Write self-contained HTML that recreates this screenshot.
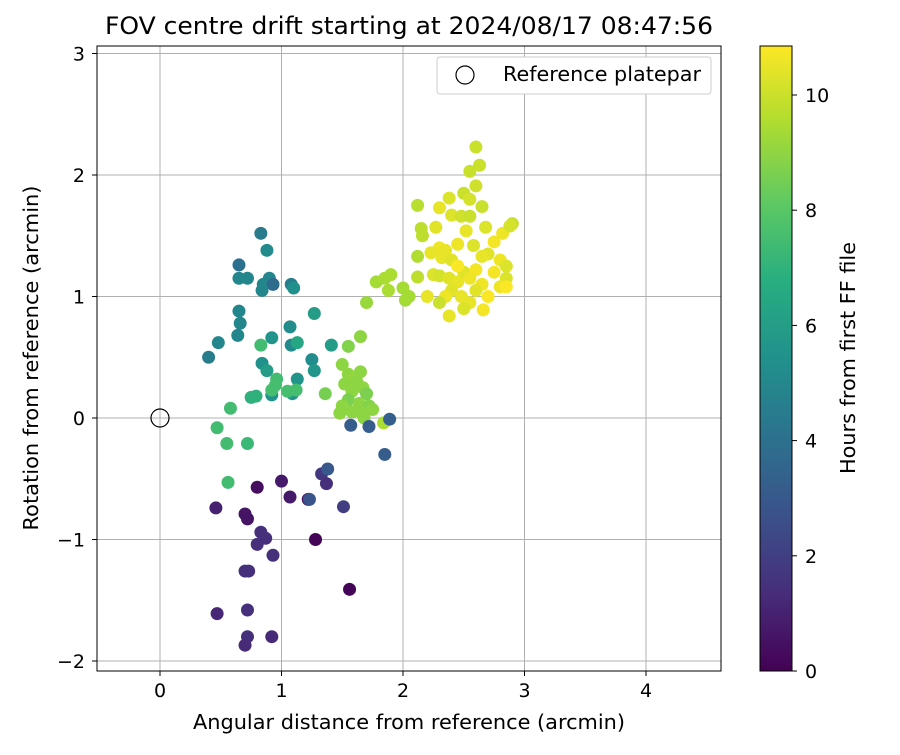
<!DOCTYPE html>
<html><head><meta charset="utf-8"><style>
body{margin:0;background:#fff;font-family:"Liberation Sans","DejaVu Sans",sans-serif}
svg text{font-family:"DejaVu Sans","Liberation Sans",sans-serif;fill:#000}
</style></head><body>
<svg id="chart" width="900" height="750" xmlns="http://www.w3.org/2000/svg">
<defs><linearGradient id="vir" x1="0" y1="1" x2="0" y2="0">
<stop offset="0" stop-color="#440154"/><stop offset="0.125" stop-color="#472d7b"/><stop offset="0.25" stop-color="#3b528b"/><stop offset="0.375" stop-color="#2c728e"/><stop offset="0.5" stop-color="#21918c"/><stop offset="0.625" stop-color="#28ae80"/><stop offset="0.75" stop-color="#5ec962"/><stop offset="0.875" stop-color="#addc30"/><stop offset="1" stop-color="#fde725"/></linearGradient></defs>
<text x="409" y="34" font-size="24" text-anchor="middle" textLength="608" lengthAdjust="spacingAndGlyphs">FOV centre drift starting at 2024/08/17 08:47:56</text>
<g id="grid"></g>
<g id="pts"></g>
<rect x="97" y="46" width="624" height="625" fill="none" stroke="#000" stroke-width="1"/>
<g id="ticks"></g>
<text x="409" y="729" font-size="20" text-anchor="middle" textLength="432" lengthAdjust="spacingAndGlyphs">Angular distance from reference (arcmin)</text>
<text transform="translate(38,358) rotate(-90)" font-size="20" text-anchor="middle" textLength="345" lengthAdjust="spacingAndGlyphs">Rotation from reference (arcmin)</text>
<g>
<rect x="437" y="57" width="274" height="37" rx="3" fill="#fff" stroke="#ccc"/>
<circle cx="465" cy="75" r="9" fill="none" stroke="#000" stroke-width="1.2"/>
<text x="503" y="81" font-size="20" textLength="198" lengthAdjust="spacingAndGlyphs">Reference platepar</text>
</g>
<rect x="760" y="46" width="32" height="625" fill="url(#vir)" stroke="#000" stroke-width="1"/>
<g id="cbt"></g>
<text transform="translate(855,358) rotate(-90)" font-size="20" text-anchor="middle" textLength="232" lengthAdjust="spacingAndGlyphs">Hours from first FF file</text>
</svg>
<script>
const xTicks=[0,1,2,3,4];
const yTicks=[-2,-1,0,1,2,3];
const yTickLabels=["−2","−1","0","1","2","3"];
const cbTicks=[0,2,4,6,8,10];
const xs=[0.83,0.65,0.88,0.65,0.72,0.85,0.90,0.93,0.84,1.08,1.10,0.65,0.66,0.64,0.48,0.40,0.92,1.07,1.27,1.08,1.13,0.83,0.84,0.88,1.25,1.27,1.13,1.41,1.09,0.92,0.96,0.95,0.92,1.05,1.12,0.79,0.75,0.58,0.47,0.55,0.72,0.56,
0.80,1.00,0.46,0.70,0.72,1.07,1.22,1.23,1.33,1.38,1.37,1.51,1.28,0.83,0.87,0.80,0.93,0.73,0.70,1.56,0.47,0.72,0.72,0.92,0.70,
1.50,1.55,1.65,1.55,1.60,1.65,1.62,1.52,1.58,1.67,1.70,1.36,1.55,1.50,1.64,1.72,1.48,1.58,1.65,1.75,1.68,1.84,1.57,1.72,1.89,1.85,1.70,1.78,1.85,1.90,1.88,2.00,2.02,2.05,2.12,2.12,2.16,2.15,2.12,
2.60,2.55,2.63,2.50,2.55,2.60,2.38,2.30,2.40,2.48,2.55,2.65,2.27,2.52,2.68,2.82,2.90,2.88,2.45,2.30,2.35,2.23,2.32,2.40,2.70,2.65,2.75,2.80,2.85,2.60,2.50,2.25,2.30,2.38,2.45,2.55,2.65,2.75,2.85,2.80,2.40,2.35,2.48,2.60,2.70,2.30,2.55,2.50,2.38,2.66,2.20,2.45,2.58,2.85];
const ys=[1.52,1.26,1.38,1.15,1.15,1.10,1.15,1.10,1.05,1.10,1.07,0.88,0.78,0.68,0.62,0.50,0.66,0.75,0.86,0.60,0.62,0.60,0.45,0.39,0.48,0.39,0.32,0.60,0.20,0.19,0.32,0.27,0.23,0.22,0.23,0.18,0.17,0.08,-0.08,-0.21,-0.21,-0.53,
-0.57,-0.52,-0.74,-0.79,-0.83,-0.65,-0.67,-0.67,-0.46,-0.42,-0.54,-0.73,-1.00,-0.94,-0.99,-1.04,-1.13,-1.26,-1.26,-1.41,-1.61,-1.58,-1.80,-1.80,-1.87,
0.44,0.59,0.67,0.36,0.33,0.38,0.30,0.28,0.22,0.25,0.20,0.20,0.15,0.10,0.12,0.10,0.04,0.05,0.05,0.07,0.00,-0.04,-0.06,-0.07,-0.01,-0.30,0.95,1.12,1.15,1.18,1.05,1.07,0.97,1.00,1.16,1.33,1.50,1.56,1.75,
2.23,2.03,2.08,1.85,1.80,1.91,1.81,1.73,1.67,1.66,1.66,1.74,1.57,1.54,1.57,1.52,1.60,1.58,1.43,1.40,1.38,1.36,1.32,1.30,1.35,1.33,1.45,1.30,1.25,1.22,1.20,1.18,1.17,1.15,1.12,1.15,1.10,1.20,1.15,1.08,1.05,1.00,1.00,1.05,1.00,0.95,0.95,0.90,0.84,0.89,1.00,1.25,1.42,1.08];
const hours=[4.5,4,5.2,5,5,5,5,3.8,5,4.6,5.4,5,5,5,5,4.6,5.6,5.3,6,5.2,6.5,7.5,5.5,6,5.3,5.7,5.6,6,5.8,5.6,7.5,7.6,7.6,7.6,7.6,7,7,7.5,7.5,7.5,7.3,7.5,
0.4,0.8,1,0.6,0.6,0.8,0.5,2.8,1.8,3,1.5,2,0.1,1.5,1.5,1.5,1.5,1.5,1.5,0.1,1.2,1.5,1.5,1.3,1.3,
9,8.8,9,9,9.1,9,9,9,9,9,8.7,8.6,8.7,9,9,8.8,9,9,9,9,9,9.5,3.2,3.2,3.3,3.2,9.2,9.4,9.5,9.5,9.5,9.4,9.4,9.4,9.8,9.6,9.8,9.8,9.7,
10,10,10,10,10.2,10.1,10.3,10.5,10.3,10.1,10,10,10.4,10.5,10.3,10.6,10,10.2,10.6,10.6,10.5,10.5,10.5,10.4,10.4,10.5,10.7,10.6,10.3,10.7,10.4,10.3,10.2,10.4,10.5,10.6,10.6,10.7,10.3,10.6,10.4,10.6,10.5,10.4,10.8,10,10.5,10.3,10.5,10.7,10.5,10.8,10.3,10.8];
const NS='http://www.w3.org/2000/svg';
const xS=v=>160+v*121.5, yS=v=>418-v*121.5;
const cS=v=>671-v*(671-95)/10, HMAX=10.85;
const vir=[[68,1,84],[71,44,122],[59,81,139],[44,113,142],[33,144,140],[39,173,129],[92,200,99],[170,220,50],[253,231,37]];
function col(h){let t=Math.max(0,Math.min(1,h/HMAX))*8,i=Math.min(7,Math.floor(t)),f=t-i;return 'rgb('+vir[i].map((c,k)=>Math.round(c+(vir[i+1][k]-c)*f)).join(',')+')';}
function mk(tag,a,p){const e=document.createElementNS(NS,tag);for(const k in a)e.setAttribute(k,a[k]);p.appendChild(e);return e;}
const g=document.getElementById('grid'),tk=document.getElementById('ticks'),pts=document.getElementById('pts'),cb=document.getElementById('cbt');
xTicks.forEach(v=>{const x=xS(v);
const l=mk('line',{x1:x,x2:x,y1:46,y2:671,stroke:'#b0b0b0','stroke-width':1},g);


mk('line',{x1:x,x2:x,y1:671,y2:676,stroke:'#000'},tk);
const t=mk('text',{x:x,y:697,'font-size':19,'text-anchor':'middle'},tk);t.textContent=v;

});
yTicks.forEach((v,i)=>{const y=yS(v);
const l=mk('line',{x1:97,x2:721,y1:y,y2:y,stroke:'#b0b0b0','stroke-width':1},g);


mk('line',{x1:92,x2:97,y1:y,y2:y,stroke:'#000'},tk);
const t=mk('text',{x:85,y:y+7,'font-size':19,'text-anchor':'end'},tk);t.textContent=yTickLabels[i];

});
cbTicks.forEach(v=>{const y=cS(v);
mk('line',{x1:792,x2:797,y1:y,y2:y,stroke:'#000'},cb);
const t=mk('text',{x:805,y:y+7,'font-size':19},cb);t.textContent=v;

});
xs.forEach((x,i)=>{const c=mk('circle',{cx:xS(x),cy:yS(ys[i]),r:6.5,fill:col(hours[i])},pts);

});
const r=mk('circle',{cx:xS(0),cy:yS(0),r:9,fill:'none',stroke:'#000','stroke-width':1.2},pts);


</script>
</body></html>
